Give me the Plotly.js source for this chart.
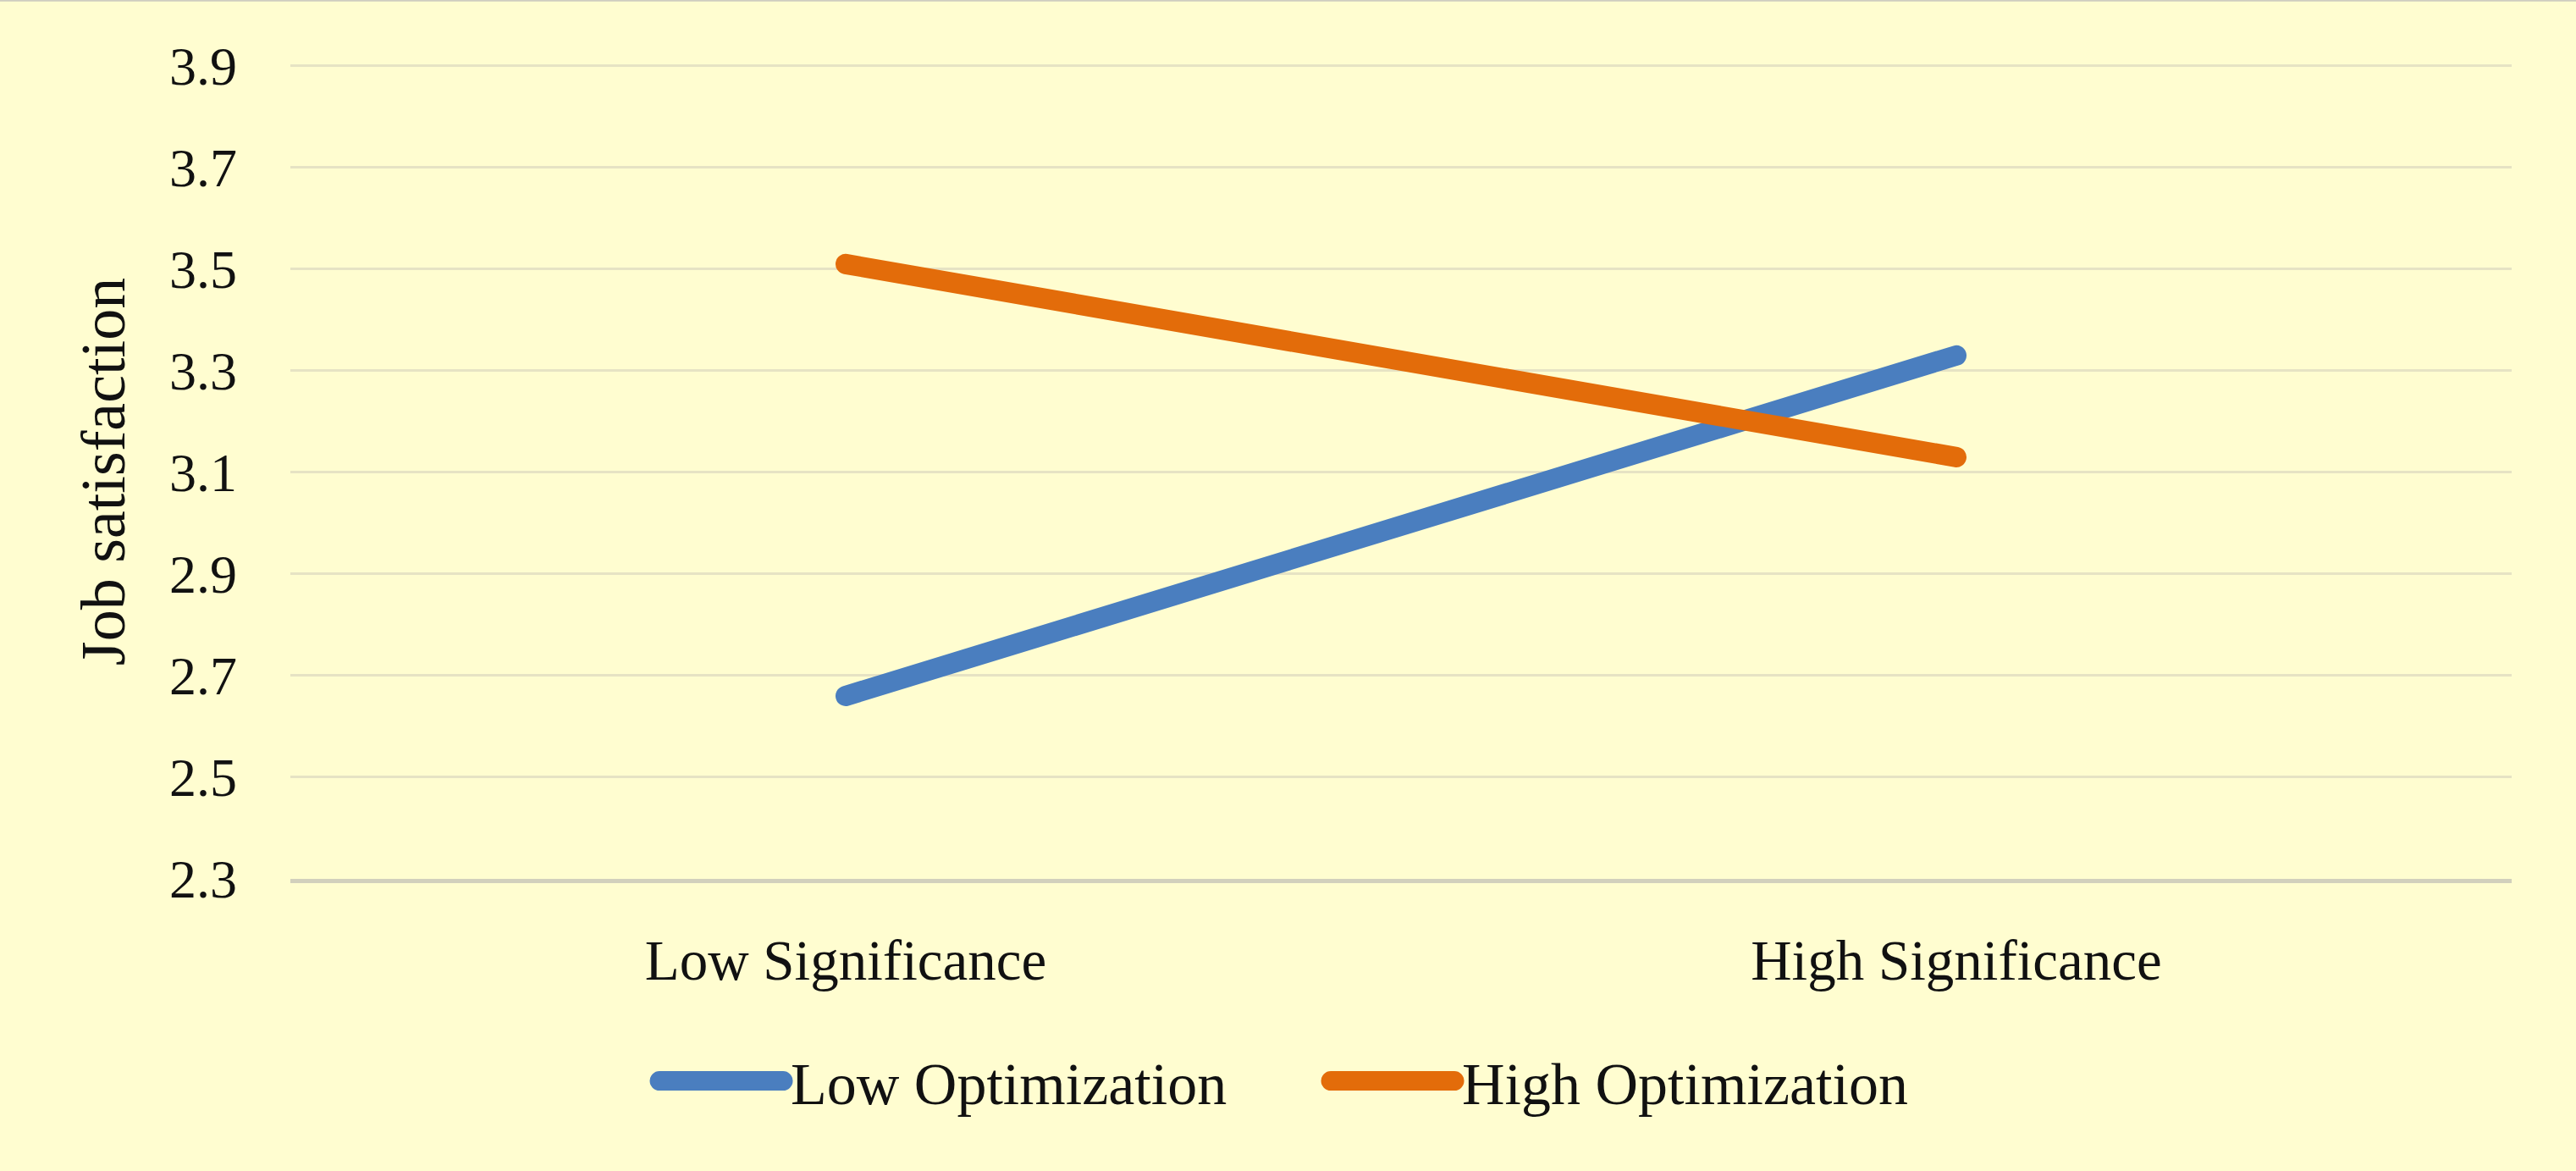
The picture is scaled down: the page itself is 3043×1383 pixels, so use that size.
<!DOCTYPE html>
<html>
<head>
<meta charset="utf-8">
<script src="https://cdn.plot.ly/plotly-3.0.1.min.js"></script>
<style>
  html, body { margin: 0; padding: 0; background: #FFFDD0; }
  #chart { width: 3043px; height: 1383px; }
  .scatterlayer path.js-line { stroke-linecap: round; }
  .legendlines path { stroke-linecap: round; stroke-width: 23px !important; transform: translateX(-4px); }
  .legend, .legend .scrollbox, .legend g { clip-path: none !important; }
</style>
</head>
<body>
<div id="chart"></div>
<script>
const categories = ["Low Significance", "High Significance"];
const lowOptimization = [2.66, 3.33];
const highOptimization = [3.51, 3.13];
const seriesNames = ["Low Optimization", "High Optimization"];
const yTickValues = [2.3, 2.5, 2.7, 2.9, 3.1, 3.3, 3.5, 3.7, 3.9];
const yTickLabels = ["2.3", "2.5", "2.7", "2.9", "3.1", "3.3", "3.5", "3.7", "3.9"];
const yAxisTitle = "Job satisfaction";

const FONT = "'Liberation Serif', 'Times New Roman', serif";

const traces = [
  {
    x: categories, y: lowOptimization, name: seriesNames[0],
    type: "scatter", mode: "lines",
    line: { color: "#4A7EBF", width: 24 }
  },
  {
    x: categories, y: highOptimization, name: seriesNames[1],
    type: "scatter", mode: "lines",
    line: { color: "#E36C0A", width: 24 }
  }
];

const layout = {
  width: 3043, height: 1383,
  paper_bgcolor: "#FFFDD0",
  plot_bgcolor: "#FFFDD0",
  margin: { l: 343, r: 76, t: 76, b: 345 },
  font: { family: FONT, color: "#111111", size: 64 },
  showlegend: true,
  legend: {
    orientation: "h",
    x: 0.468, xanchor: "center",
    y: -0.248, yanchor: "middle",
    font: { family: FONT, size: 70, color: "#111111" },
    itemwidth: 146,
    entrywidth: 632,
    bgcolor: "rgba(0,0,0,0)",
    traceorder: "normal"
  },
  xaxis: {
    type: "category",
    range: [-0.5, 1.5],
    showgrid: false,
    zeroline: false,
    showline: true,
    linecolor: "#D2D0BC",
    linewidth: 5,
    ticks: "",
    ticklabelstandoff: 34,
    tickfont: { family: FONT, size: 67, color: "#111111" },
    fixedrange: true
  },
  yaxis: {
    range: [2.3, 3.903],
    tickvals: yTickValues,
    ticktext: yTickLabels,
    showgrid: true,
    gridcolor: "#E6E3C4",
    gridwidth: 3,
    zeroline: false,
    showline: false,
    ticks: "",
    ticklabelstandoff: 62,
    tickfont: { family: FONT, size: 64, color: "#111111" },
    title: { text: yAxisTitle, font: { family: FONT, size: 74, color: "#111111" }, standoff: 28 },
    automargin: false,
    fixedrange: true
  },
  shapes: [
    { type: "line", xref: "paper", yref: "paper", x0: -1, x1: 2, y0: 1.0792, y1: 1.0792,
      line: { color: "#CFCDC0", width: 4 } }
  ]
};

Plotly.newPlot("chart", traces, layout, { displayModeBar: false, staticPlot: true });
</script>
</body>
</html>
